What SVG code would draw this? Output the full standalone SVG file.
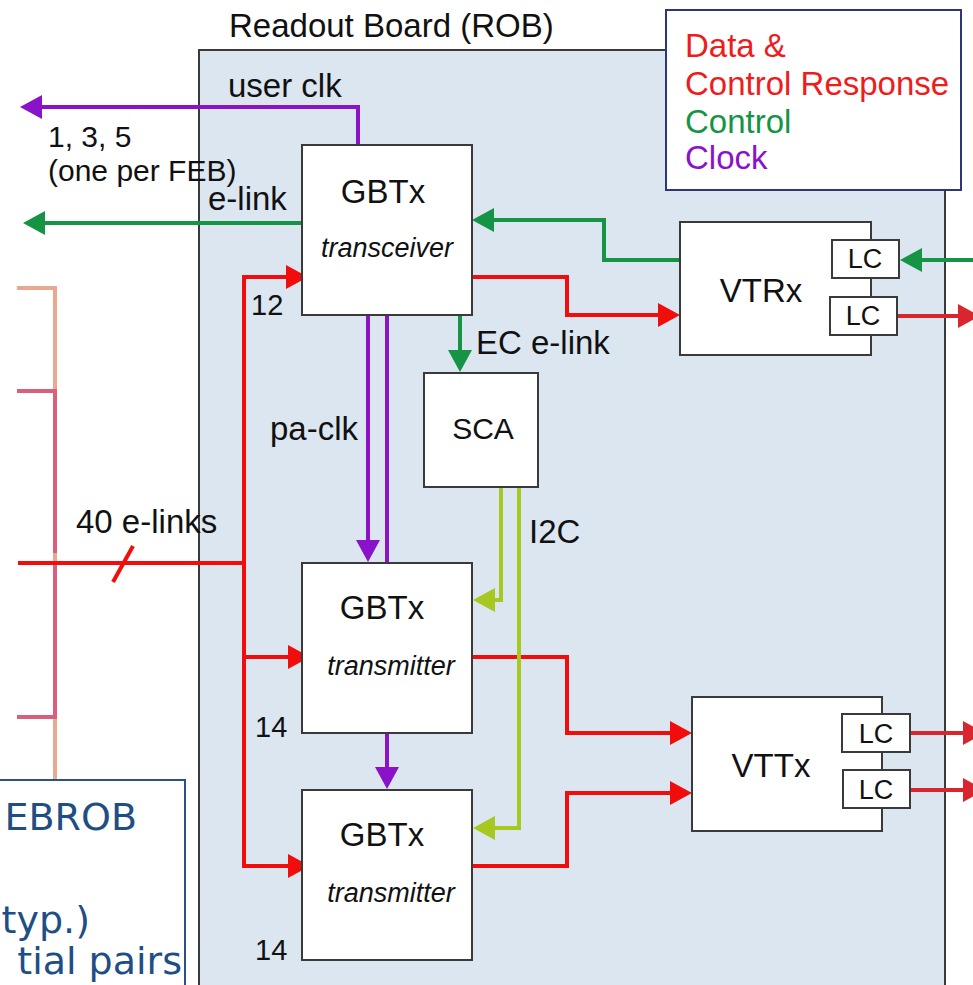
<svg xmlns="http://www.w3.org/2000/svg" width="973" height="985" viewBox="0 0 973 985">
<style>
  text { font-family: "Liberation Sans", Arial, sans-serif; fill: #111; }
  .box { fill: #fff; stroke: #3a3a3a; stroke-width: 2; }
  .lc { fill: #fff; stroke: #3a3a3a; stroke-width: 2; }
  .c { fill: none; stroke-width: 4; stroke-linejoin: miter; }
  .red { stroke: #f20d0d; }
  .redx { stroke: #d9262e; }
  .grn { stroke: #169446; }
  .pur { stroke: #8a12c9; }
  .ylw { stroke: #a6c820; }
  .lbl { font-size: 33px; }
  .it { font-size: 27px; font-style: italic; }
  .leg { font-size: 33px; }
  .note { font-family: "DejaVu Sans", Verdana, sans-serif; font-size: 38px; fill: #1f4e85; }
</style>
<defs>
  <marker id="aR" viewBox="0 0 22 24" refX="14" refY="12" markerWidth="22" markerHeight="24" markerUnits="userSpaceOnUse" orient="auto"><path d="M0,0 L22,12 L0,24 Z" fill="#f20d0d"/></marker>
  <marker id="aRx" viewBox="0 0 22 24" refX="14" refY="12" markerWidth="22" markerHeight="24" markerUnits="userSpaceOnUse" orient="auto"><path d="M0,0 L22,12 L0,24 Z" fill="#d9262e"/></marker>
  <marker id="aG" viewBox="0 0 22 24" refX="14" refY="12" markerWidth="22" markerHeight="24" markerUnits="userSpaceOnUse" orient="auto"><path d="M0,0 L22,12 L0,24 Z" fill="#169446"/></marker>
  <marker id="aP" viewBox="0 0 22 24" refX="14" refY="12" markerWidth="22" markerHeight="24" markerUnits="userSpaceOnUse" orient="auto"><path d="M0,0 L22,12 L0,24 Z" fill="#8a12c9"/></marker>
  <marker id="aY" viewBox="0 0 22 24" refX="14" refY="12" markerWidth="22" markerHeight="24" markerUnits="userSpaceOnUse" orient="auto"><path d="M0,0 L22,12 L0,24 Z" fill="#a6c820"/></marker>
</defs>

<rect width="973" height="985" fill="#fff"/>

<!-- Readout board -->
<g id="rob">
  <rect x="199" y="50" width="746" height="960" fill="#dce6f0" stroke="#3a3a3a" stroke-width="2"/>
  <text x="229" y="37" font-size="33">Readout Board (ROB)</text>
</g>

<!-- Legend -->
<g id="legend">
  <rect x="666" y="10" width="295" height="180" fill="#fff" stroke="#2e3580" stroke-width="2"/>
  <text class="leg" x="685" y="57" style="fill:#ee1c1c">Data &amp;</text>
  <text class="leg" x="685" y="95" style="fill:#ee1c1c">Control Response</text>
  <text class="leg" x="685" y="133" style="fill:#169446">Control</text>
  <text class="leg" x="685" y="169" style="fill:#8a12c9">Clock</text>
</g>

<!-- left side brackets -->
<g id="brackets">
  <path d="M17,288 H55 V780" fill="none" stroke="#eba891" stroke-width="4"/>
  <path d="M17,391 H55 V553" fill="none" stroke="#d9607a" stroke-width="4"/>
  <path d="M55,561 V717 H17" fill="none" stroke="#d9607a" stroke-width="4"/>
</g>

<!-- Connectors -->
<g id="connectors">
  <path class="c pur" d="M358,145 V107 H28" marker-end="url(#aP)"/>
  <path class="c grn" d="M302,223 H31" marker-end="url(#aG)"/>
  <path class="c grn" d="M680,260 H604 V220 H480" marker-end="url(#aG)"/>
  <path class="c grn" d="M973,260 H908" marker-end="url(#aG)"/>
  <path class="c grn" d="M460,315 V364" marker-end="url(#aG)"/>
  <path class="c red" d="M472,277 H567 V315 H672" marker-end="url(#aR)"/>
  <path class="c redx" d="M897,316 H972" marker-end="url(#aRx)"/>
  <path class="c red" d="M18,563 H244"/>
  <path class="c red" d="M113,582 L133,546"/>
  <path class="c red" d="M244,277 V866"/>
  <path class="c red" d="M242,277 H300" marker-end="url(#aR)"/>
  <path class="c red" d="M244,657 H302" marker-end="url(#aR)"/>
  <path class="c red" d="M242,866 H302" marker-end="url(#aR)"/>
  <path class="c red" d="M472,657 H567 V733 H684" marker-end="url(#aR)"/>
  <path class="c red" d="M472,866 H567 V793 H684" marker-end="url(#aR)"/>
  <path class="c redx" d="M905,733 H977" marker-end="url(#aRx)"/>
  <path class="c redx" d="M905,790 H977" marker-end="url(#aRx)"/>
  <path class="c pur" d="M368,315 V554" marker-end="url(#aP)"/>
  <path class="c pur" d="M387,315 V562"/>
  <path class="c pur" d="M387,733 V781" marker-end="url(#aP)"/>
  <path class="c ylw" d="M501,487 V600 H481" marker-end="url(#aY)"/>
  <path class="c ylw" d="M519,487 V828 H481" marker-end="url(#aY)"/>
</g>

<!-- Labels -->
<g id="labels">
  <text class="lbl" x="228" y="97">user clk</text>
  <text x="48" y="147" font-size="30">1, 3, 5</text>
  <text x="48" y="181" font-size="30">(one per FEB)</text>
  <text class="lbl" x="208" y="210">e-link</text>
  <text x="251" y="315" font-size="29">12</text>
  <text class="lbl" x="76" y="533">40 e-links</text>
  <text class="lbl" x="270" y="440">pa-clk</text>
  <text class="lbl" x="476" y="354">EC e-link</text>
  <text class="lbl" x="529" y="543">I2C</text>
  <text x="255" y="737" font-size="29">14</text>
  <text x="255" y="960" font-size="29">14</text>
</g>

<g id="gbtx-transceiver">
  <rect class="box" x="302" y="145" width="170" height="170"/>
  <text class="lbl" x="383" y="203" text-anchor="middle">GBTx</text>
  <text class="it" x="387" y="257" text-anchor="middle">transceiver</text>
</g>

<g id="sca">
  <rect class="box" x="424" y="373" width="114" height="114"/>
  <text x="483" y="439" font-size="30" text-anchor="middle">SCA</text>
</g>

<g id="gbtx-transmitter-1">
  <rect class="box" x="302" y="563" width="170" height="170"/>
  <text class="lbl" x="382" y="619" text-anchor="middle">GBTx</text>
  <text class="it" x="391" y="675" text-anchor="middle">transmitter</text>
</g>

<g id="gbtx-transmitter-2">
  <rect class="box" x="302" y="790" width="170" height="170"/>
  <text class="lbl" x="382" y="846" text-anchor="middle">GBTx</text>
  <text class="it" x="391" y="902" text-anchor="middle">transmitter</text>
</g>

<g id="vtrx">
  <rect class="box" x="680" y="222" width="191" height="133"/>
  <text class="lbl" x="761" y="302" text-anchor="middle">VTRx</text>
  <rect class="lc" x="832" y="240" width="67" height="38"/>
  <text x="865" y="268" font-size="27" text-anchor="middle">LC</text>
  <rect class="lc" x="830" y="297" width="67" height="38"/>
  <text x="863" y="325" font-size="27" text-anchor="middle">LC</text>
</g>

<g id="vttx">
  <rect class="box" x="692" y="697" width="190" height="134"/>
  <text class="lbl" x="771" y="777" text-anchor="middle">VTTx</text>
  <rect class="lc" x="842" y="714" width="68" height="38"/>
  <text x="876" y="743" font-size="27" text-anchor="middle">LC</text>
  <rect class="lc" x="843" y="770" width="67" height="38"/>
  <text x="876" y="799" font-size="27" text-anchor="middle">LC</text>
</g>

<g id="feb-rob-note">
  <rect x="-10" y="780" width="195" height="220" fill="#fff" stroke="#2b5188" stroke-width="2"/>
  <text class="note" x="137" y="830" text-anchor="end">EBROB</text>
  <text class="note" x="90" y="933" text-anchor="end">typ.)</text>
  <text class="note" x="182" y="974" text-anchor="end">tial pairs</text>
</g>
</svg>
